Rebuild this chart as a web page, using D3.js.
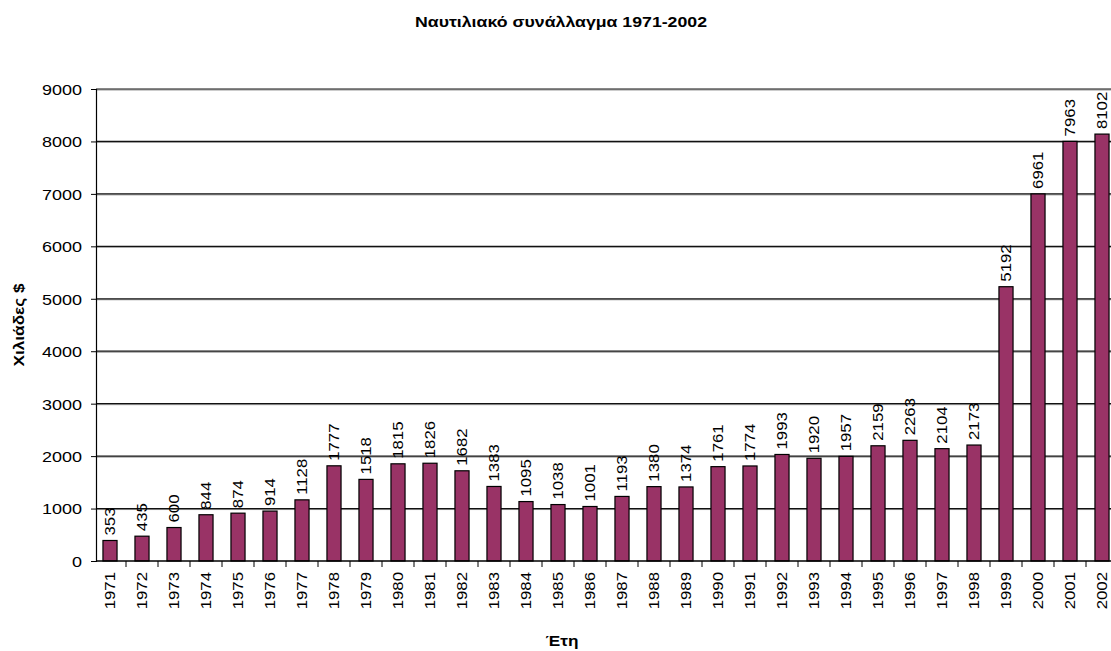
<!DOCTYPE html>
<html><head><meta charset="utf-8">
<script src="https://cdn.jsdelivr.net/npm/d3@7"></script>
<style>body{margin:0;background:#fff}svg{display:block}text{font-family:Arial,"Liberation Sans",sans-serif}</style>
</head><body>
<script>
const years = ["1971","1972","1973","1974","1975","1976","1977","1978","1979","1980","1981","1982","1983","1984","1985","1986","1987","1988","1989","1990","1991","1992","1993","1994","1995","1996","1997","1998","1999","2000","2001","2002"];
const values = [353,435,600,844,874,914,1128,1777,1518,1815,1826,1682,1383,1095,1038,1001,1193,1380,1374,1761,1774,1993,1920,1957,2159,2263,2104,2173,5192,6961,7963,8102];
const yTicks = [0,1000,2000,3000,4000,5000,6000,7000,8000,9000];
const title = "Ναυτιλιακό συνάλλαγμα 1971-2002";
const yTitle = "Χιλιάδες $";
const xTitle = "Έτη";

const W = 1111, H = 651;
const svg = d3.select("body").append("svg").attr("width", W).attr("height", H);
const x = d3.scaleBand().domain(years).range([94, 1118]).paddingInner(0.56).paddingOuter(0.28);
const y = d3.scaleLinear().domain([0, 9000]).range([561, 89]);
const FS = 14, SX = 1.2;

// gridlines
const grid = svg.append("g");
grid.selectAll("line.g2").data(yTicks.filter(d => d > 0)).join("line").attr("class", "g2")
  .attr("x1", 96).attr("x2", W).attr("y1", d => y(d) + 1).attr("y2", d => y(d) + 1)
  .attr("stroke", "#999").attr("stroke-width", 1);
grid.selectAll("line.g1").data(yTicks.filter(d => d > 0)).join("line").attr("class", "g1")
  .attr("x1", 96).attr("x2", W).attr("y1", d => y(d)).attr("y2", d => y(d))
  .attr("stroke", "#111").attr("stroke-width", 1.2);

// bars
svg.append("g").selectAll("rect").data(values).join("rect")
  .attr("x", (d, i) => x(years[i]))
  .attr("width", x.bandwidth())
  .attr("y", d => y(d) - 2)
  .attr("height", d => y(0) - y(d) + 2)
  .attr("fill", "#993366").attr("stroke", "#000").attr("stroke-width", 1.2);

// value labels
svg.append("g").selectAll("text").data(values).join("text")
  .attr("transform", (d, i) => `translate(${x(years[i]) + x.bandwidth() / 2 + 5},${y(d) - 7}) rotate(-90) scale(${SX},1)`)
  .attr("font-size", FS).attr("fill", "#000").attr("text-anchor", "start")
  .text(d => d);

// y axis
const yAxis = d3.axisLeft(y).tickValues(yTicks).tickSize(5).tickPadding(8).tickFormat(d3.format("d"));
const ga = svg.append("g").attr("transform", "translate(96,0)").call(yAxis);
ga.select(".domain").attr("stroke", "#000").attr("stroke-width", 1.2);
ga.selectAll(".tick line").attr("stroke", "#000");
ga.selectAll(".tick text").attr("x", null).attr("dy", "0.36em")
  .attr("transform", `translate(-14,0) scale(${SX},1)`)
  .attr("font-size", FS + 1).attr("fill", "#000").attr("font-family", "Arial");

// x axis
const xAxis = d3.axisBottom(x).tickSize(0).tickPadding(0);
const gx = svg.append("g").attr("transform", "translate(0,561)").call(xAxis);
gx.select(".domain").remove();
gx.selectAll(".tick text")
  .attr("transform", `translate(5,11) rotate(-90) scale(${SX},1)`)
  .attr("text-anchor", "end").attr("dy", 0).attr("x", 0).attr("y", 0)
  .attr("font-size", FS).attr("fill", "#000").attr("font-family", "Arial");
svg.append("line").attr("x1", 96).attr("x2", W).attr("y1", 561).attr("y2", 561).attr("stroke", "#000").attr("stroke-width", 1.4);
// category separator ticks
const sep = years.map((d, i) => i === 0 ? null : x(d) - x.step() * x.paddingInner() / 2).filter(d => d !== null);
svg.append("g").selectAll("line").data(sep).join("line")
  .attr("x1", d => d).attr("x2", d => d).attr("y1", 561).attr("y2", 567).attr("stroke", "#000");

// titles
svg.append("text").attr("x", 561).attr("y", 27).attr("text-anchor", "middle")
  .attr("font-size", 14).attr("font-weight", "bold")
  .attr("textLength", 292).attr("lengthAdjust", "spacingAndGlyphs").text(title);
svg.append("text").attr("transform", `translate(24,325) rotate(-90) scale(1.15,1)`).attr("text-anchor", "middle")
  .attr("font-size", 15).attr("font-weight", "bold").text(yTitle);
svg.append("text").attr("transform", "translate(562,646) scale(1.15,1)").attr("text-anchor", "middle")
  .attr("font-size", 15).attr("font-weight", "bold").text(xTitle);
</script>
</body></html>
